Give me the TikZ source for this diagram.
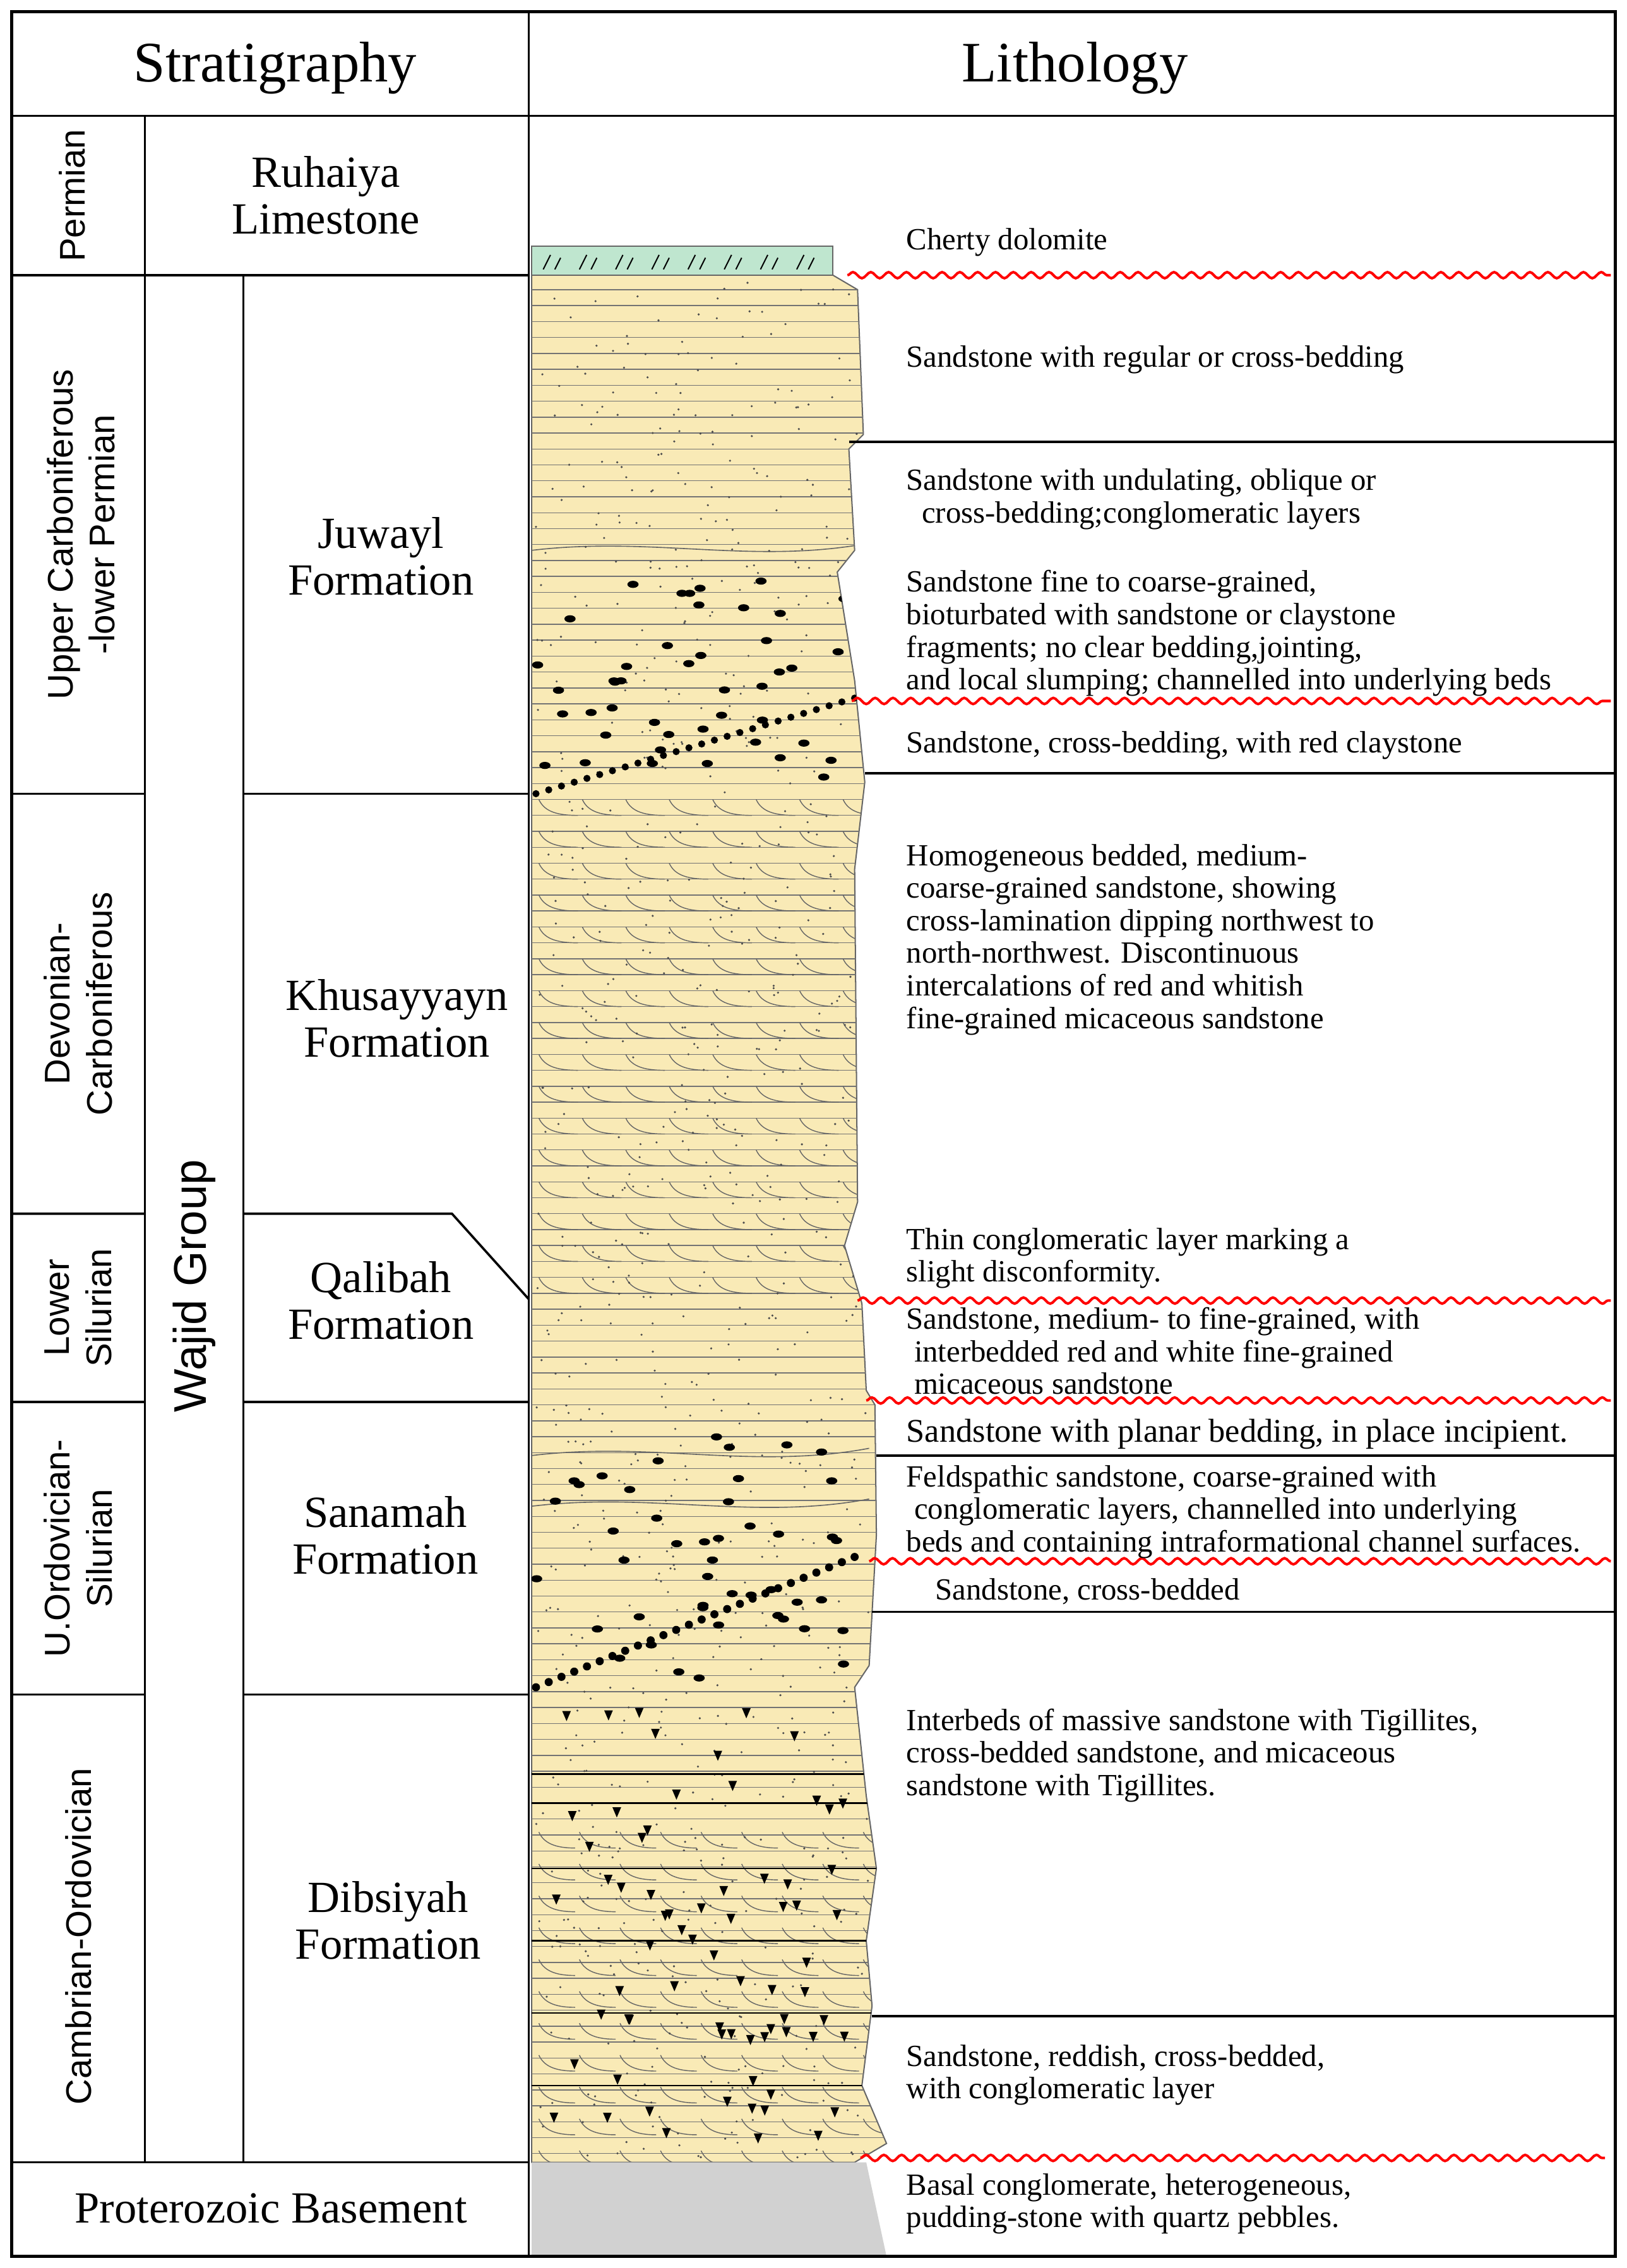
\documentclass[tikz,border=0pt]{standalone}
\usepackage{fontspec}
\setmainfont{Liberation Serif}
\setsansfont{Liberation Sans}
\usetikzlibrary{decorations.pathmorphing}
\definecolor{sandc}{HTML}{F9EAB6}
\definecolor{dolc}{HTML}{BFE6CF}
\begin{document}
\begin{tikzpicture}[x=0.02cm,y=-0.02cm,line width=0.9pt,
  hdr/.style={font=\fontsize{22.5}{24}\selectfont,anchor=center},
  fm/.style={font=\fontsize{17.5}{18.4}\selectfont,align=center,anchor=center},
  per/.style={font=\sffamily\fontsize{14}{16.5}\selectfont,align=center,rotate=90,anchor=center},
  lt/.style={font=\fontsize{12.1}{12.8}\selectfont,align=left,anchor=north west,inner sep=0pt},
  wavy/.style={red,line width=1pt,decorate,decoration={snake,segment length=7pt,amplitude=1.2pt}},
  sand/.style={fill=sandc}]
\useasboundingbox (0,0) rectangle (1123,1566);
\fill[white] (0,0) rectangle (1123,1566);
% sandstone column
\path[sand,draw=black!60,line width=0.5pt] (367,190) -- (575,190) -- (592,200) -- (596,300) -- (586,310) -- (590,380) -- (578,395) -- (590,470) -- (597,540) -- (590,600) -- (592,830) -- (583,860) -- (595,900) -- (598,960) -- (604,970) -- (605,1060) -- (600,1150) -- (590,1165) -- (598,1240) -- (605,1290) -- (598,1340) -- (602,1385) -- (595,1440) -- (612,1480) -- (590,1493) -- (367,1493) -- cycle;
\begin{scope}
\clip (367,190) -- (575,190) -- (592,200) -- (596,300) -- (586,310) -- (590,380) -- (578,395) -- (590,470) -- (597,540) -- (590,600) -- (592,830) -- (583,860) -- (595,900) -- (598,960) -- (604,970) -- (605,1060) -- (600,1150) -- (590,1165) -- (598,1240) -- (605,1290) -- (598,1340) -- (602,1385) -- (595,1440) -- (612,1480) -- (590,1493) -- (367,1493) -- cycle;
\foreach \y in {200,211,...,1490} \draw[black!55,line width=0.35pt] (367,\y) -- (620,\y);
\foreach \y in {552,574,...,900} \foreach \x in {372,402,...,600}
  \draw[black!60,line width=0.35pt] (\x,\y) .. controls (\x+4,\y+9) and (\x+14,\y+11) .. (\x+27,\y+11);
\foreach \y in {1265,1287,...,1490} \foreach \x in {372,400,...,600}
  \draw[black!60,line width=0.35pt] (\x,\y) .. controls (\x+4,\y+9) and (\x+14,\y+11) .. (\x+25,\y+11);
\foreach \y in {380,1005,1040} \draw[black!60,line width=0.4pt] (367,\y) .. controls (450,\y-10) and (520,\y+10) .. (600,\y-5);
\pgfmathsetseed{7}
\foreach \i in {1,...,900}{\pgfmathsetmacro\xx{370+rnd*230}\pgfmathsetmacro\yy{195+rnd*1295}
  \fill[black!70] (\xx,\yy) circle[radius=0.45pt];}
\foreach \i in {1,...,45}{\pgfmathsetmacro\xx{370+rnd*220}\pgfmathsetmacro\yy{400+rnd*140}
  \fill (\xx,\yy) ellipse[x radius=2.2pt,y radius=1.4pt];}
\foreach \i in {1,...,45}{\pgfmathsetmacro\xx{370+rnd*220}\pgfmathsetmacro\yy{990+rnd*170}
  \fill (\xx,\yy) ellipse[x radius=2.2pt,y radius=1.4pt];}
\foreach \t in {0,0.04,...,1}{\fill ({370+\t*220},{548-\t*66}) circle[radius=1.4pt];
  \fill ({370+\t*220},{1165-\t*90}) circle[radius=1.6pt];}
\foreach \i in {1,...,70}{\pgfmathsetmacro\xx{375+rnd*215}\pgfmathsetmacro\yy{1175+rnd*300}
  \fill (\xx,\yy) -- ++(6,0) -- ++(-3,7) -- cycle;}
\foreach \y in {1225,1245,1290,1340,1390,1440} \draw[line width=0.6pt] (367,\y) -- (610,\y);
\end{scope}
% cherty dolomite
\path[fill=dolc,draw=black!60,line width=0.5pt] (367,170) rectangle (575,190);
\foreach \x in {375,400,...,560} \draw[line width=0.5pt] (\x,186) -- (\x+5,176) (\x+8,186) -- (\x+12,178);
% basement
\path[fill=black!18] (367,1493) -- (598,1493) -- (612,1558) -- (367,1558) -- cycle;
% frame and grid
\draw[line width=1.2pt] (8,8) rectangle (1115,1558);
\draw (8,80) -- (1115,80);
\draw (365,8) -- (365,1558);
\draw (100,80) -- (100,1493);
\draw (8,190) -- (365,190);
\draw (168,190) -- (168,1493);
\draw (8,548) -- (100,548) (168,548) -- (365,548);
\draw (8,838) -- (100,838) (168,838) -- (312,838) -- (365,897);
\draw (8,968) -- (100,968) (168,968) -- (365,968);
\draw (8,1170) -- (100,1170) (168,1170) -- (365,1170);
\draw (8,1493) -- (365,1493);
% right lines
\draw (586,305) -- (1115,305);
\draw (597,534) -- (1115,534);
\draw (605,1005) -- (1115,1005);
\draw (602,1113) -- (1115,1113);
\draw (602,1392) -- (1115,1392);
\draw[wavy] (585,190) -- (1112,190);
\draw[wavy] (588,484) -- (1112,484);
\draw[wavy] (592,898) -- (1112,898);
\draw[wavy] (598,967) -- (1112,967);
\draw[wavy] (600,1078) -- (1112,1078);
\draw[wavy] (594,1490) -- (1108,1490);
% headers
\node[hdr] (h1) at (190,47) {Stratigraphy};
\node[hdr] (h2) at (742,47) {Lithology};
% periods
\node[per] (p1) at (50,135) {Permian};
\node[per] (p2) at (56,369) {Upper Carboniferous\\-lower Permian};
\node[per] (p3) at (54,693) {Devonian-\\Carboniferous};
\node[per] (p4) at (54,903) {Lower\\Silurian};
\node[per] (p5) at (54,1069) {U.Ordovician-\\Silurian};
\node[per] (p6) at (54,1337) {Cambrian-Ordovician};
\node[per,font=\sffamily\fontsize{18}{20}\selectfont] (wg) at (134,888) {Wajid Group};
\node[fm] (f0) at (225,135) {Ruhaiya\\Limestone};
\node[fm] (f1) at (263,384) {Juwayl\\Formation};
\node[fm] (f2) at (274,703) {Khusayyayn\\Formation};
\node[fm] (f3) at (263,898) {Qalibah\\Formation};
\node[fm] (f4) at (266,1060) {Sanamah\\Formation};
\node[fm] (f5) at (268,1326) {Dibsiyah\\Formation};
\node[fm] (f6) at (187,1525) {Proterozoic Basement};
% lithology texts
\node[lt] (t1) at (625,157) {Cherty dolomite};
\node[lt] (t2) at (625,238) {Sandstone with regular or cross-bedding};
\node[lt] (t3) at (625,323) {Sandstone with undulating, oblique or\\\ \ cross-bedding;conglomeratic layers};
\node[lt] (t4) at (625,393) {Sandstone fine to coarse-grained,\\bioturbated with sandstone or claystone\\fragments; no clear bedding,jointing,\\and local slumping; channelled into underlying beds};
\node[lt] (t5) at (625,504) {Sandstone, cross-bedding, with red claystone};
\node[lt] (t6) at (625,582) {Homogeneous bedded, medium-\\coarse-grained sandstone, showing\\cross-lamination dipping northwest to\\north-northwest. Discontinuous\\intercalations of red and whitish\\fine-grained micaceous sandstone};
\node[lt] (t7) at (625,847) {Thin conglomeratic layer marking a\\slight disconformity.};
\node[lt] (t8) at (625,902) {Sandstone, medium- to fine-grained, with\\\ interbedded red and white fine-grained\\\ micaceous sandstone};
\node[lt,font=\fontsize{13}{13}\selectfont] (t9) at (625,979) {Sandstone with planar bedding, in place incipient.};
\node[lt] (t10) at (625,1011) {Feldspathic sandstone, coarse-grained with\\\ conglomeratic layers, channelled into underlying\\beds and containing intraformational channel surfaces.};
\node[lt] (t11) at (645,1089) {Sandstone, cross-bedded};
\node[lt] (t12) at (625,1179) {Interbeds of massive sandstone with Tigillites,\\cross-bedded sandstone, and micaceous\\sandstone with Tigillites.};
\node[lt] (t13) at (625,1411) {Sandstone, reddish, cross-bedded,\\with conglomeratic layer};
\node[lt] (t14) at (625,1500) {Basal conglomerate, heterogeneous,\\pudding-stone with quartz pebbles.};
\end{tikzpicture}
\end{document}
